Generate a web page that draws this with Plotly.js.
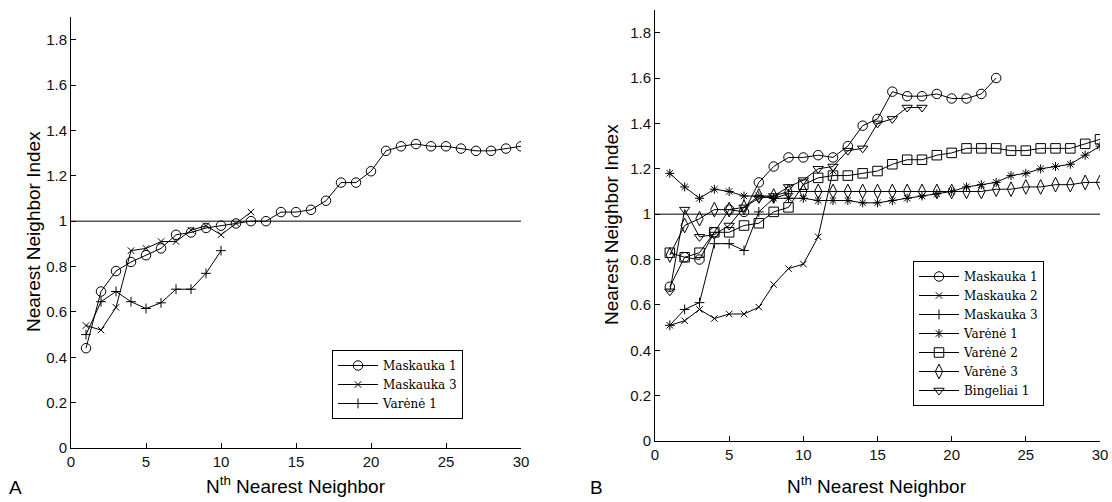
<!DOCTYPE html>
<html>
<head>
<meta charset="utf-8">
<script src="https://cdn.plot.ly/plotly-3.0.1.min.js"></script>
<style>
  html, body { margin: 0; padding: 0; background: #fff; }
  #chart { width: 1112px; height: 502px; }
</style>
</head>
<body>
<div id="chart"></div>
<script>
// Nearest neighbour index as a function of neighbour order N

// Panel A
const aMaskauka1 = [0.44, 0.69, 0.78, 0.82, 0.85, 0.88, 0.94, 0.95, 0.97, 0.98,
                    0.99, 1.00, 1.00, 1.04, 1.04, 1.05, 1.09, 1.17, 1.17, 1.22,
                    1.31, 1.33, 1.34, 1.33, 1.33, 1.32, 1.31, 1.31, 1.32, 1.33];
const aMaskauka3 = [0.54, 0.52, 0.62, 0.87, 0.88, 0.91, 0.91, 0.96, 0.98, 0.94, 0.99, 1.04];
const aVarene1   = [0.50, 0.645, 0.69, 0.645, 0.615, 0.64, 0.70, 0.70, 0.77, 0.87];

// Panel B
const bMaskauka1 = [0.68, 0.81, 0.80, 0.92, 1.02, 1.01, 1.14, 1.21, 1.25, 1.25,
                    1.26, 1.25, 1.30, 1.39, 1.42, 1.54, 1.52, 1.52, 1.53, 1.51,
                    1.51, 1.53, 1.60];
const bMaskauka2 = [0.51, 0.53, 0.58, 0.54, 0.56, 0.56, 0.59, 0.69, 0.76, 0.78, 0.90, 1.19];
const bMaskauka3 = [0.51, 0.58, 0.61, 0.87, 0.87, 0.84, 1.01, 1.07, 1.09];
const bVarene1   = [1.18, 1.12, 1.07, 1.11, 1.10, 1.08, 1.08, 1.07, 1.07, 1.07,
                    1.06, 1.06, 1.06, 1.05, 1.05, 1.06, 1.07, 1.08, 1.09, 1.10,
                    1.12, 1.13, 1.14, 1.17, 1.18, 1.20, 1.21, 1.22, 1.26, 1.30];
const bVarene2   = [0.83, 0.81, 0.83, 0.92, 0.92, 0.95, 0.96, 1.01, 1.03, 1.13,
                    1.16, 1.17, 1.17, 1.18, 1.19, 1.22, 1.24, 1.24, 1.26, 1.27,
                    1.29, 1.29, 1.29, 1.28, 1.28, 1.29, 1.29, 1.29, 1.31, 1.33];
const bVarene3   = [0.82, 0.95, 0.98, 1.02, 1.02, 1.03, 1.08, 1.08, 1.10, 1.10,
                    1.10, 1.10, 1.10, 1.10, 1.10, 1.10, 1.10, 1.10, 1.10, 1.10,
                    1.10, 1.10, 1.11, 1.11, 1.12, 1.12, 1.13, 1.13, 1.14, 1.14];
const bBingeliai1 = [0.66, 1.02, 0.90, 0.91, 0.95, 1.03, 1.07, 1.08, 1.12, 1.15,
                     1.20, 1.21, 1.28, 1.29, 1.40, 1.42, 1.47, 1.47];

// Reference level (random spatial pattern)
const refLevel = 1;

// Axis ticks
const xTicks = [0, 5, 10, 15, 20, 25, 30];
const yTicks = [0, 0.2, 0.4, 0.6, 0.8, 1, 1.2, 1.4, 1.6, 1.8];
const yTickText = ['0', '0.2', '0.4', '0.6', '0.8', '1', '1.2', '1.4', '1.6', '1.8'];

const order = v => v.map((_, i) => i + 1);

const SYMBOLS = {
  circle:   { symbol: 'circle-open',        size: 9.5 },
  cross:    { symbol: 'x-thin-open',        size: 6.5 },
  plus:     { symbol: 'cross-thin-open',    size: 7 },
  star:     { symbol: 'asterisk-open',      size: 7.5 },
  square:   { symbol: 'square-open',        size: 9.5 },
  diamond:  { symbol: 'diamond-tall-open',  size: 10.5 },
  triangle: { symbol: 'triangle-down-open', size: 9 }
};

function series(name, values, mark, xa, ya, legend) {
  const m = SYMBOLS[mark];
  return {
    type: 'scatter',
    mode: 'lines+markers',
    name: name,
    x: order(values),
    y: values,
    xaxis: xa,
    yaxis: ya,
    legend: legend,
    line: { color: '#000', width: 1 },
    marker: { symbol: m.symbol, size: m.size, color: '#000',
              line: { color: '#000', width: 1 } },
    hoverinfo: 'skip'
  };
}

const traces = [
  series('Maskauka 1', aMaskauka1, 'circle', 'x', 'y', 'legend'),
  series('Maskauka 3', aMaskauka3, 'cross',  'x', 'y', 'legend'),
  series('Varėnė 1',   aVarene1,   'plus',   'x', 'y', 'legend'),

  series('Maskauka 1',  bMaskauka1,  'circle',   'x2', 'y2', 'legend2'),
  series('Maskauka 2',  bMaskauka2,  'cross',    'x2', 'y2', 'legend2'),
  series('Maskauka 3',  bMaskauka3,  'plus',     'x2', 'y2', 'legend2'),
  series('Varėnė 1',    bVarene1,    'star',     'x2', 'y2', 'legend2'),
  series('Varėnė 2',    bVarene2,    'square',   'x2', 'y2', 'legend2'),
  series('Varėnė 3',    bVarene3,    'diamond',  'x2', 'y2', 'legend2'),
  series('Bingeliai 1', bBingeliai1, 'triangle', 'x2', 'y2', 'legend2')
];

const W = 1112, H = 502;
const px = v => v / W;          // horizontal pixel -> paper
const py = v => (H - v) / H;    // vertical pixel (from top) -> paper

const tickFont = { family: 'Liberation Sans, Arial, sans-serif', size: 15, color: '#111' };
const titleFont = { family: 'Liberation Sans, Arial, sans-serif', size: 19, color: '#000' };

function xAxis(domain, anchor) {
  return {
    domain: domain, anchor: anchor, range: [0, 30],
    tickmode: 'array', tickvals: xTicks,
    ticks: 'inside', ticklen: 5, tickcolor: '#000', tickwidth: 1,
    showline: true, linecolor: '#000', linewidth: 1,
    showgrid: false, zeroline: false, fixedrange: true,
    tickfont: tickFont
  };
}
function yAxis(domain, anchor) {
  return {
    domain: domain, anchor: anchor, range: [0, 1.9],
    tickmode: 'array', tickvals: yTicks, ticktext: yTickText,
    ticks: 'inside', ticklen: 5, tickcolor: '#000', tickwidth: 1,
    showline: true, linecolor: '#000', linewidth: 1,
    showgrid: false, zeroline: false, fixedrange: true,
    tickfont: tickFont
  };
}

const legendBase = {
  xanchor: 'left', yanchor: 'top',
  bgcolor: '#fff', bordercolor: '#000', borderwidth: 1,
  font: { family: 'DejaVu Serif, serif', size: 12, color: '#000' },
  itemwidth: 40,
  tracegroupgap: 0, itemclick: false, itemdoubleclick: false
};

const layout = {
  width: W, height: H,
  margin: { l: 0, r: 0, t: 0, b: 0 },
  paper_bgcolor: '#fff', plot_bgcolor: '#fff',
  showlegend: true,
  xaxis:  xAxis([px(71), px(521)], 'y'),
  yaxis:  yAxis([py(448), py(17)], 'x'),
  xaxis2: xAxis([px(655), px(1100)], 'y2'),
  yaxis2: yAxis([py(441), py(10)], 'x2'),
  legend:  Object.assign({}, legendBase, { x: px(332), y: py(350) }),
  legend2: Object.assign({}, legendBase, { x: px(913), y: py(261) }),
  shapes: [
    { type: 'line', xref: 'x', yref: 'y', x0: 0, x1: 30, y0: refLevel, y1: refLevel,
      line: { color: '#000', width: 1 }, layer: 'below' },
    { type: 'line', xref: 'x2', yref: 'y2', x0: 0, x1: 30, y0: refLevel, y1: refLevel,
      line: { color: '#000', width: 1 }, layer: 'below' }
  ],
  annotations: [
    { text: 'Nearest Neighbor Index', textangle: -90, font: titleFont,
      xref: 'paper', yref: 'paper', x: px(33), y: py(232),
      xanchor: 'center', yanchor: 'middle', showarrow: false },
    { text: 'Nearest Neighbor Index', textangle: -90, font: titleFont,
      xref: 'paper', yref: 'paper', x: px(611), y: py(225),
      xanchor: 'center', yanchor: 'middle', showarrow: false },
    { text: 'N<sup>th</sup> Nearest Neighbor', font: titleFont,
      xref: 'paper', yref: 'paper', x: px(296), y: py(485),
      xanchor: 'center', yanchor: 'middle', showarrow: false },
    { text: 'N<sup>th</sup> Nearest Neighbor', font: titleFont,
      xref: 'paper', yref: 'paper', x: px(877), y: py(485),
      xanchor: 'center', yanchor: 'middle', showarrow: false },
    { text: 'A', font: { family: 'Liberation Sans, Arial, sans-serif', size: 19, color: '#000' },
      xref: 'paper', yref: 'paper', x: px(15), y: py(487),
      xanchor: 'center', yanchor: 'middle', showarrow: false },
    { text: 'B', font: { family: 'Liberation Sans, Arial, sans-serif', size: 19, color: '#000' },
      xref: 'paper', yref: 'paper', x: px(596), y: py(487),
      xanchor: 'center', yanchor: 'middle', showarrow: false }
  ]
};

Plotly.newPlot('chart', traces, layout, { staticPlot: true, displayModeBar: false });
</script>
</body>
</html>
